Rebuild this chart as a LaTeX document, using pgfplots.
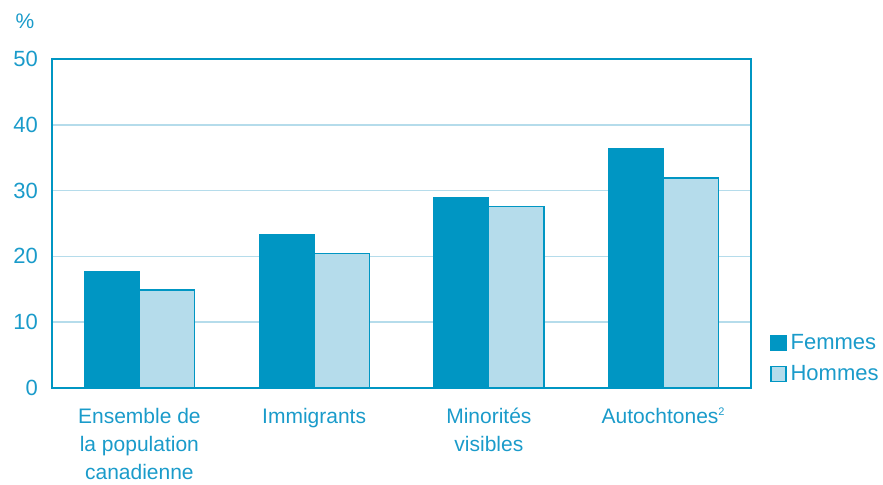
\documentclass[border=0pt]{standalone}
\usepackage{pgfplots}
\pgfplotsset{compat=1.18}
\usepackage{fontspec}
\setmainfont{Liberation Sans}
\definecolor{dblue}{HTML}{0096C3}
\definecolor{lblue}{HTML}{B5DCEB}
\definecolor{tblue}{HTML}{1A9BCA}
\begin{document}
\begin{tikzpicture}
\useasboundingbox (-26pt,-48.5pt) rectangle (415.5pt,194pt);
\begin{axis}[
  name=ax,
  clip=false,
  scale only axis,
  width=349.5pt, height=164.5pt,
  xmin=-0.5, xmax=3.5,
  ymin=0, ymax=50,
  ytick={0,10,20,30,40,50},
  xtick={0,1,2,3},
  xticklabels={{Ensemble de\\la population\\canadienne},{Immigrants},{Minorités\\visibles},{Autochtones\textsuperscript{\fontsize{5.5}{6}\selectfont 2}}},
  major tick length=0pt,
  ymajorgrids,
  grid style={lblue, line width=0.8pt},
  axis line style={dblue, line width=0.8pt},
  /pgf/number format/assume math mode=true,
  tick label style={tblue, font=\fontsize{10.5}{14}\selectfont},
  yticklabel style={font=\fontsize{11}{14}\selectfont},
  xticklabel style={align=center, yshift=-6.5pt},
  yticklabel style={xshift=-3.5pt},
  ybar, bar width=0.315,
  legend style={at={(rel axis cs:1,0)}, anchor=south west, draw=none, fill=none,
    xshift=9.5pt, yshift=0pt, font=\fontsize{11}{13}\selectfont, text=tblue,
    row sep=2.5pt, inner sep=0pt, cells={anchor=west}},
  legend image code/.code={\draw[#1, line width=0.6pt] (0pt,-3.5pt) rectangle (7.5pt,4pt);},
]
\addplot[fill=dblue, draw=dblue, line width=0.5pt, bar shift=-0.1575] coordinates {(0,17.7) (1,23.4) (2,28.9) (3,36.4)};
\addplot[fill=lblue, draw=dblue, line width=0.6pt, bar shift=0.1575] coordinates {(0,14.9) (1,20.4) (2,27.6) (3,31.9)};
\legend{Femmes,Hommes}
\draw[dblue, line width=1.3pt] (rel axis cs:0,0) -- (rel axis cs:1,0);
\node[tblue, font=\fontsize{10.5}{13}\selectfont] at (rel axis cs:0,1) [xshift=-13.5pt, yshift=19pt] {\%};
\end{axis}
\end{tikzpicture}
\end{document}
